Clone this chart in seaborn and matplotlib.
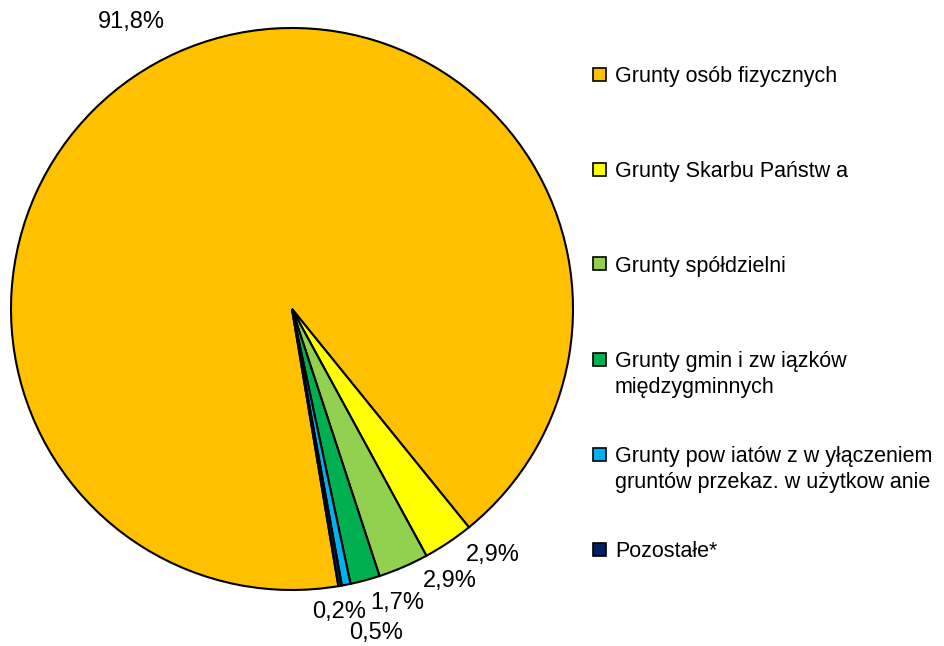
import matplotlib
matplotlib.use("Agg")
import matplotlib.pyplot as plt
from matplotlib.patches import Rectangle
import numpy as np
import seaborn as sns

categories = [
    "Grunty osób fizycznych",
    "Grunty Skarbu Państw a",
    "Grunty spółdzielni",
    "Grunty gmin i zw iązków\nmiędzygminnych",
    "Grunty pow iatów z w yłączeniem\ngruntów przekaz. w użytkow anie",
    "Pozostałe*",
]
shares = [91.8, 2.9, 2.9, 1.7, 0.5, 0.2]
share_labels = ["91,8%", "2,9%", "2,9%", "1,7%", "0,5%", "0,2%"]
colors = ["#FFC000", "#FFFF00", "#92D050", "#00B050", "#00B0F0", "#002060"]

# label placement (angle shift in degrees, distance from centre in radii)
label_shift = [4.9, 5.5, 6.7, 4.7, 3.5, -1.1]
label_radius = [1.17, 1.13, 1.12, 1.11, 1.19, 1.09]

sns.set_style("white")
plt.rcParams["font.family"] = ["Liberation Sans", "DejaVu Sans"]

W, H = 945, 646
fig = plt.figure(figsize=(W / 100, H / 100), dpi=100)
fig.patch.set_facecolor("white")

cx, cy, r = 292, 309, 281
ax = fig.add_axes([(cx - r) / W, (H - cy - r) / H, 2 * r / W, 2 * r / H])
wedges, _ = ax.pie(
    shares,
    colors=colors,
    startangle=-80.5,
    counterclock=False,
    wedgeprops=dict(edgecolor="black", linewidth=1.5),
)
ax.set_xlim(-1, 1)
ax.set_ylim(-1, 1)
ax.set_aspect("equal")
for w in wedges:
    w.set_clip_on(False)

for w, lab, sh, rad in zip(wedges, share_labels, label_shift, label_radius):
    mid = np.deg2rad((w.theta1 + w.theta2) / 2 + sh)
    ax.text(rad * np.cos(mid), rad * np.sin(mid), lab, ha="center", va="center",
            fontsize=17, color="black", clip_on=False)

# legend drawn entry by entry so the box sits next to the first text line
for i, (name, col) in enumerate(zip(categories, colors)):
    yc = 74 + i * 95
    fig.add_artist(Rectangle((593 / W, 1 - (yc + 6.5) / H), 13 / W, 13 / H,
                             facecolor=col, edgecolor="black", linewidth=1.2,
                             transform=fig.transFigure))
    for j, line in enumerate(name.split("\n")):
        fig.text(615 / W, 1 - (yc + 26 * j) / H, line, ha="left",
                 va="center_baseline", fontsize=15.5, color="black")

fig.savefig("out.png", dpi=100)
